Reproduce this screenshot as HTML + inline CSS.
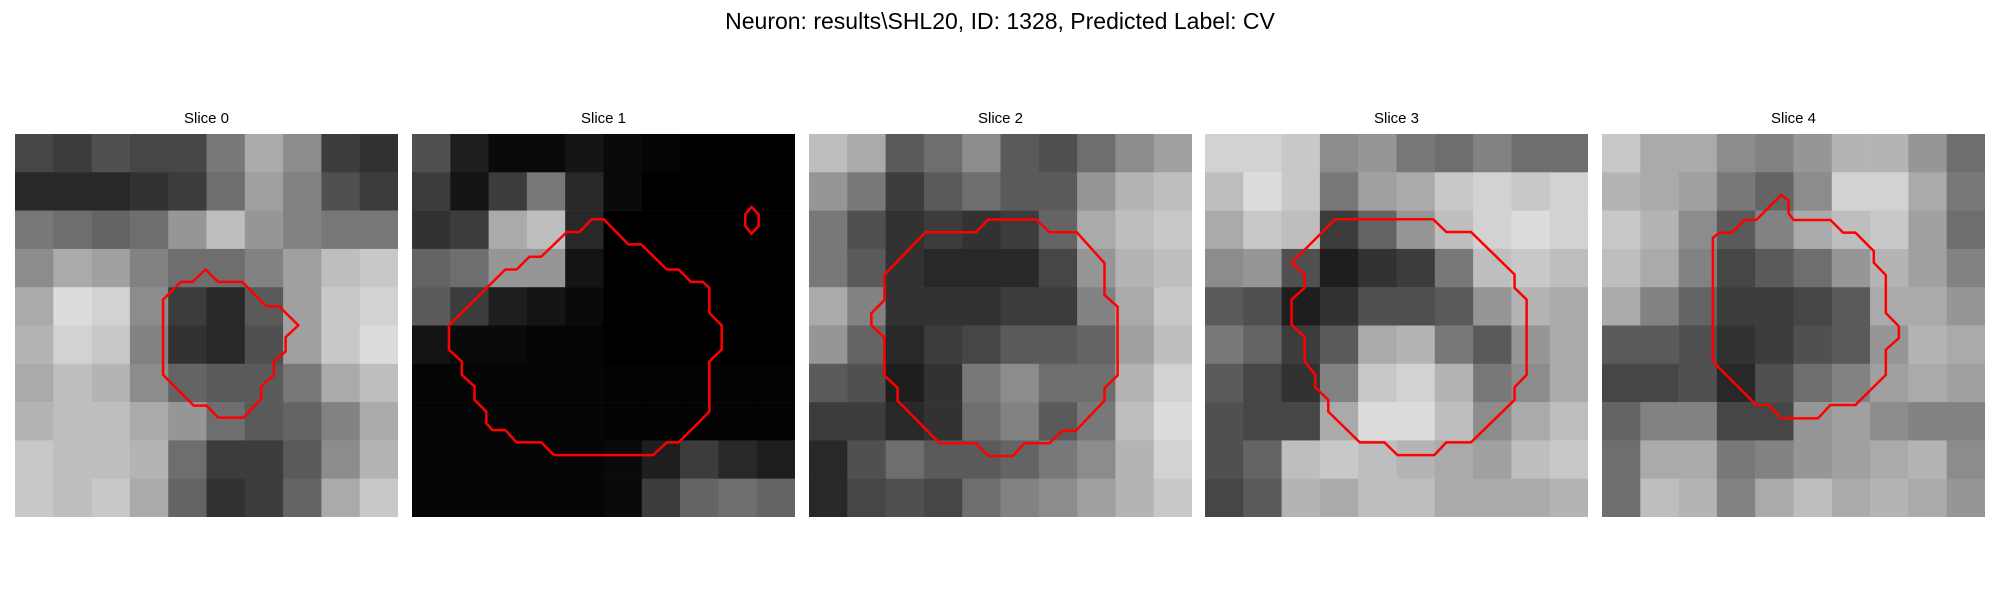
<!DOCTYPE html>
<html><head><meta charset="utf-8">
<style>
html,body{margin:0;padding:0;background:#fff;width:2000px;height:600px;overflow:hidden;font-family:"Liberation Sans","DejaVu Sans",sans-serif;}
#title{position:absolute;left:0;width:2000px;top:8px;text-align:center;font-size:23px;color:#000;}
.ptitle{position:absolute;top:110px;width:383px;text-align:center;font-size:15px;color:#000;}
svg.panel{position:absolute;top:134px;width:383px;height:383px;}
</style></head><body>
<div id="title">Neuron: results\SHL20, ID: 1328, Predicted Label: CV</div>
<div id="root"></div>
<script>
const panelLefts=[15,412,809,1205,1602];
const panelTitles=["Slice 0","Slice 1","Slice 2","Slice 3","Slice 4"];
const boxes=[[30,105,750,1145],[808,105,747,1145],[36,105,731,1142],[795,105,730,1145],[38,105,1147,1145]];
const gray0=[[70,60,80,70,70,120,170,140,60,50],[40,40,40,50,60,110,160,130,80,60],[120,110,100,110,150,190,150,130,120,120],[140,170,160,130,110,110,130,160,190,200],[170,220,210,140,60,40,90,160,200,210],[180,210,200,130,50,40,80,160,200,220],[170,190,180,140,100,90,90,120,170,190],[180,190,190,170,150,110,90,100,130,170],[200,190,190,180,110,60,60,90,140,180],[200,190,200,170,100,50,60,100,170,200]];
const gray1=[[80,30,10,10,20,10,5,0,0,0],[60,20,60,120,40,10,0,0,0,0],[50,60,170,190,40,0,0,0,0,0],[100,110,150,150,20,0,0,0,0,0],[90,60,30,20,10,0,0,0,0,0],[20,10,10,5,5,0,0,0,0,0],[5,5,5,5,5,3,3,3,3,3],[5,5,5,5,5,3,3,3,3,3],[5,5,5,5,5,10,30,60,40,30],[5,5,5,5,5,10,60,100,110,100]];
const gray2=[[190,170,90,110,140,90,80,110,140,160],[150,120,60,90,110,90,90,150,180,190],[120,80,50,60,50,60,100,170,190,200],[120,90,50,40,40,40,70,150,180,190],[170,130,50,50,50,60,60,130,170,200],[150,100,40,60,70,90,90,100,160,190],[90,80,30,50,120,140,110,110,180,210],[60,60,40,50,110,130,90,120,190,220],[40,80,110,90,90,100,120,140,180,210],[40,70,80,70,110,130,140,160,180,200]];
const gray3=[[210,210,200,140,150,120,110,130,110,110],[190,220,200,120,160,170,200,210,200,210],[170,200,190,60,100,150,190,210,220,210],[140,150,80,30,50,60,120,190,200,190],[90,80,30,50,80,80,90,150,180,170],[120,100,60,90,170,180,120,90,150,170],[90,70,50,130,200,210,180,120,140,170],[80,70,70,170,220,220,190,140,170,190],[80,100,190,200,190,180,170,160,190,200],[70,90,180,170,190,190,170,170,170,180]];
const gray4=[[200,170,170,140,130,150,180,180,150,110],[180,170,160,120,100,140,210,210,170,120],[200,180,140,90,130,170,190,200,160,110],[190,170,130,70,90,110,150,180,160,130],[170,130,100,60,60,70,90,170,170,150],[90,90,80,50,60,80,90,150,180,170],[70,70,80,40,80,110,130,160,170,160],[100,130,130,70,70,150,160,140,130,130],[110,170,170,120,130,150,160,170,180,140],[110,190,180,130,170,190,170,180,170,150]];
const grays=[gray0,gray1,gray2,gray3,gray4];
const contour0=[[403,510],[428,547],[475,547],[522,620],[547,620],[585,677],[560,712],[560,755],[537,785],[537,825],[512,860],[512,897],[478,953],[428,953],[405,917],[380,917],[320,825],[320,600],[355,547],[378,547]];
const contour1=[[1158,360],[1182,360],[1230,435],[1255,435],[1305,510],[1328,510],[1352,547],[1375,547],[1388,565],[1388,640],[1412,677],[1412,750],[1388,785],[1388,935],[1328,1027],[1305,1027],[1278,1065],[1085,1065],[1060,1027],[1012,1027],[990,990],[965,990],[953,970],[953,935],[930,900],[930,860],[905,825],[905,785],[880,750],[880,677],[990,510],[1012,510],[1037,472],[1060,472],[1110,398],[1135,398]];
const contour1b=[[1470,323],[1484,345],[1484,380],[1470,403],[1458,380],[1458,345]];
const contour2=[[378,360],[470,360],[495,398],[547,398],[600,490],[600,585],[625,620],[625,825],[600,862],[600,900],[545,990],[520,990],[495,1027],[447,1027],[425,1065],[378,1065],[355,1027],[285,1027],[205,900],[205,862],[180,825],[180,712],[155,675],[155,640],[180,600],[180,525],[258,398],[355,398]];
const contour3=[[1043,360],[1230,360],[1255,398],[1302,398],[1385,525],[1385,565],[1408,600],[1408,825],[1385,862],[1385,900],[1302,1027],[1255,1027],[1232,1065],[1162,1065],[1137,1027],[1090,1027],[1030,935],[1030,900],[1005,862],[1005,825],[985,785],[985,712],[960,675],[960,600],[985,565],[985,525],[960,490]];
const contour4=[[575,287],[597,305],[597,343],[612,362],[722,362],[760,400],[797,400],[852,455],[852,490],[888,527],[888,640],[927,680],[927,715],[888,750],[888,825],[797,915],[722,915],[685,955],[575,955],[537,915],[500,915],[370,785],[370,415],[390,400],[427,400],[465,362],[500,362]];
const contours=[[contour0],[contour1,contour1b],[contour2],[contour3],[contour4]];
const NS="http://www.w3.org/2000/svg";
const root=document.getElementById('root');
for(let p=0;p<5;p++){
  const t=document.createElement('div');
  t.className='ptitle';t.style.left=panelLefts[p]+'px';t.textContent=panelTitles[p];
  
  
  root.appendChild(t);
  const [bx,by,bw,bh]=boxes[p];
  const svg=document.createElementNS(NS,'svg');
  svg.setAttribute('class','panel');
  svg.style.left=panelLefts[p]+'px';
  svg.setAttribute('viewBox',bx+' '+by+' '+bw+' '+bh);
  svg.setAttribute('preserveAspectRatio','none');
  
  
  const g=grays[p];const n=g.length;
  for(let r=0;r<n;r++)for(let c=0;c<n;c++){
    const rc=document.createElementNS(NS,'rect');
    const v=g[r][c];
    rc.setAttribute('x',bx+c*bw/n);rc.setAttribute('y',by+r*bh/n);
    rc.setAttribute('width',bw/n+0.8);rc.setAttribute('height',bh/n+0.8);
    rc.setAttribute('fill','rgb('+v+','+v+','+v+')');
    
    
    svg.appendChild(rc);
  }
  contours[p].forEach((pts,i)=>{
    const pl=document.createElementNS(NS,'polygon');
    pl.setAttribute('points',pts.map(q=>q.join(',')).join(' '));
    pl.setAttribute('fill','none');pl.setAttribute('stroke','#ff0000');
    pl.setAttribute('stroke-width','2.5');pl.setAttribute('vector-effect','non-scaling-stroke');
    pl.setAttribute('stroke-linejoin','round');
    
    
    svg.appendChild(pl);
  });
  root.appendChild(svg);
}
</script>
</body></html>
